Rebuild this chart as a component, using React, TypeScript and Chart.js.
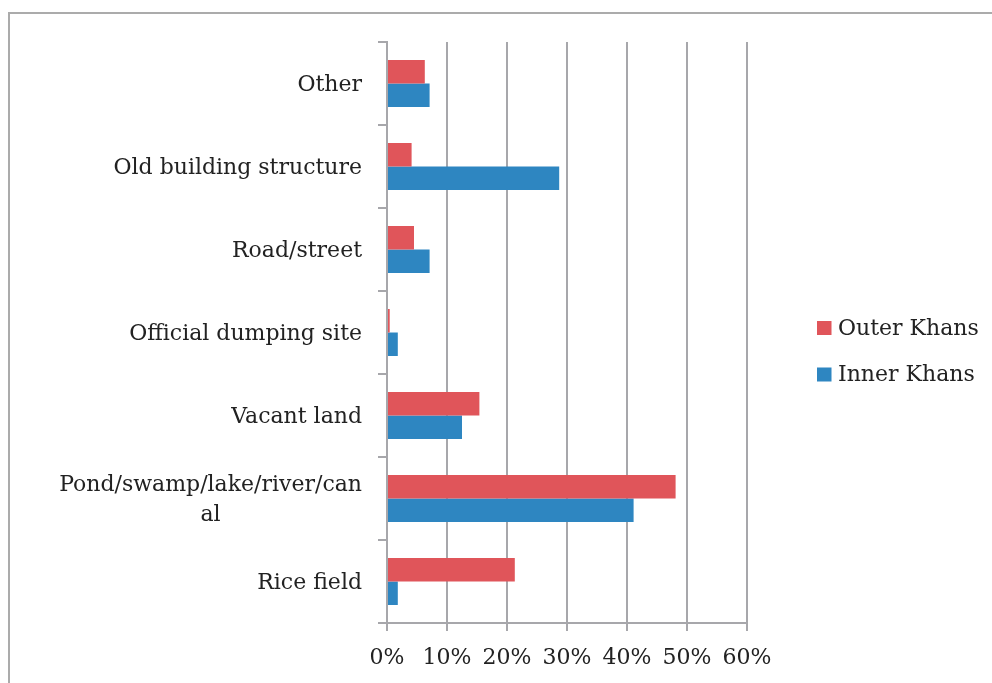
import React, { useEffect, useRef } from 'react';
import { Chart, registerables } from 'chart.js';

Chart.register(...registerables);

const categories: (string | string[])[] = [
  'Other',
  'Old building structure',
  'Road/street',
  'Official dumping site',
  'Vacant land',
  ['Pond/swamp/lake/river/can', 'al'],
  'Rice field',
];
const outerKhans = [6.3, 4.1, 4.5, 0.45, 15.4, 48.1, 21.3];
const innerKhans = [7.1, 28.7, 7.1, 1.8, 12.5, 41.1, 1.8];
const seriesNames = ['Outer Khans', 'Inner Khans'];
const seriesColors = ['#E0555A', '#2E86C1'];
const xMin = 0;
const xMax = 60;
const xStep = 10;

const FONT = '"DejaVu Serif", serif';
const TEXT = '#222222';
const GRID = '#A7A7AB';

const yLabelPlugin = {
  id: 'yLabels',
  afterDraw(chart: any) {
    const ctx = chart.ctx;
    const ys = chart.scales.y;
    const labels = chart.data.labels as (string | string[])[];
    ctx.save();
    ctx.font = `22px ${FONT}`;
    ctx.fillStyle = TEXT;
    ctx.textAlign = 'center';
    ctx.textBaseline = 'middle';
    const xr = chart.chartArea.left - 9 - 16;
    const lh = 30;
    labels.forEach((lab, i) => {
      const lines = Array.isArray(lab) ? lab : [lab];
      const w = Math.max(...lines.map((l) => ctx.measureText(l).width));
      const cx = xr - w / 2;
      const yc = ys.getPixelForValue(i) + 2;
      const start = yc - ((lines.length - 1) * lh) / 2;
      lines.forEach((l, j) => ctx.fillText(l, cx, start + j * lh));
    });
    ctx.restore();
  },
};

const legendPlugin = {
  id: 'customLegend',
  afterDraw(chart: any) {
    const ctx = chart.ctx;
    ctx.save();
    ctx.font = `22px ${FONT}`;
    ctx.textBaseline = 'middle';
    ctx.textAlign = 'left';
    const x = chart.chartArea.right + 70;
    const y0 = 328;
    const gap = 46.5;
    chart.data.datasets.forEach((ds: any, i: number) => {
      const y = y0 + i * gap;
      ctx.fillStyle = ds.backgroundColor;
      ctx.fillRect(x, y - 7, 14.5, 14);
      ctx.fillStyle = TEXT;
      ctx.fillText(ds.label, x + 21, y + 1);
    });
    ctx.restore();
  },
};

export default function App() {
  const ref = useRef<HTMLCanvasElement | null>(null);

  useEffect(() => {
    if (!ref.current) return;
    const chart = new Chart(ref.current, {
      type: 'bar',
      data: {
        labels: categories,
        datasets: [
          {
            label: seriesNames[0],
            data: outerKhans,
            backgroundColor: seriesColors[0],
            categoryPercentage: 0.566,
            barPercentage: 1,
          },
          {
            label: seriesNames[1],
            data: innerKhans,
            backgroundColor: seriesColors[1],
            categoryPercentage: 0.566,
            barPercentage: 1,
          },
        ],
      },
      options: {
        indexAxis: 'y',
        responsive: false,
        animation: false,
        devicePixelRatio: 1,
        layout: { padding: { left: 0, top: 42, right: 245, bottom: 0 } },
        plugins: {
          legend: { display: false },
          tooltip: { enabled: false },
        },
        scales: {
          x: {
            min: xMin,
            max: xMax,
            afterFit: (s: any) => {
              s.height = 60;
            },
            ticks: {
              stepSize: xStep,
              callback: (v: any) => `${v}%`,
              font: { family: FONT, size: 22 },
              color: TEXT,
              padding: 14,
              maxRotation: 0,
            },
            grid: {
              color: GRID,
              lineWidth: 2,
              drawTicks: true,
              tickLength: 8,
            },
            border: { display: true, color: GRID, width: 2 },
          },
          y: {
            afterFit: (s: any) => {
              s.width = 387;
            },
            ticks: { display: false },
            grid: {
              drawOnChartArea: false,
              drawTicks: true,
              tickLength: 9,
              color: GRID,
              lineWidth: 2,
            },
            border: { display: true, color: GRID, width: 2 },
          },
        },
      },
      plugins: [yLabelPlugin, legendPlugin],
    });
    return () => chart.destroy();
  }, []);

  return (
    <div
      style={{
        position: 'absolute',
        left: 0,
        top: 0,
        width: 992,
        height: 683,
        overflow: 'hidden',
        background: '#fff',
      }}
    >
      <div
        style={{
          position: 'absolute',
          left: 8,
          top: 12,
          width: 1100,
          height: 800,
          border: '2px solid #ABABAB',
        }}
      />
      <canvas
        ref={ref}
        width={992}
        height={683}
        style={{ position: 'absolute', left: 0, top: 0, width: 992, height: 683 }}
      />
    </div>
  );
}
